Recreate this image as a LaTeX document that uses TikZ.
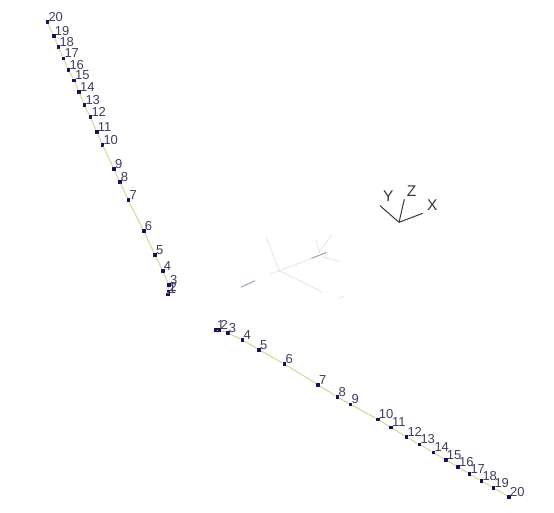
\documentclass[tikz,border=0pt]{standalone}
\usepackage{fontspec}
\setmainfont{Liberation Sans}
\definecolor{linecol}{RGB}{214,212,150}
\definecolor{dotcol}{RGB}{18,18,95}
\definecolor{numcol}{RGB}{62,62,92}
\definecolor{axiscol}{RGB}{55,55,55}
\tikzset{
  dotmark/.style={fill=dotcol,draw=none,rectangle,inner sep=0,minimum size=3.6pt},
  numlabel/.style={anchor=west,inner sep=0,text=numcol,font=\fontsize{13}{13}\selectfont},
  axlabel/.style={inner sep=0,text=axiscol,font=\fontsize{15.5}{15.5}\selectfont},
  chain/.style={draw=linecol,line width=1pt},
  axline/.style={draw=axiscol,line width=1pt},
  faint/.style={line width=1pt,densely dotted,draw=black!16},
  faintblue/.style={line width=1pt,draw=dotcol!40},
}
\begin{document}
\begin{tikzpicture}[x=1pt,y=-1pt]
  \useasboundingbox (0,0) rectangle (554,512);

  % left chain
  \foreach \n/\x/\y in {1/167.7/294.3,2/168.3/291.7,3/169/285,4/162.7/271,5/155/255,
    6/143.7/231,7/128.3/200,8/119.7/181.7,9/114/169,10/102.3/144.7,11/96.7/131.7,
    12/90.3/117,13/84.3/105,14/79/91.7,15/74/80.3,16/68.3/69.7,17/63.3/58.3,
    18/58.3/46.7,19/53.7/36,20/47.3/22}
  {
    \node[dotmark] (lp\n) at (\x,\y) {};
    \node[numlabel] (ll\n) at (\x+1,\y-5) {\n};
  }
  \foreach \a/\b in {1/2,2/3,3/4,4/5,5/6,6/7,7/8,8/9,9/10,10/11,11/12,12/13,13/14,
    14/15,15/16,16/17,17/18,18/19,19/20}
    \draw[chain] (lp\a) -- (lp\b);

  % lower chain
  \foreach \n/\x/\y in {1/216/330,2/219.3/330,3/227.7/332.7,4/242.3/340,5/259/349.7,
    6/284.3/364,7/318/384.7,8/337.3/397,9/350.3/404.3,10/377.7/419.3,11/391/427.3,
    12/406.3/437,13/419.3/444.3,14/433.3/452.3,15/445.7/460,16/458/467,17/469.3/473.7,
    18/481.3/481,19/493.3/487.7,20/509/496.7}
  {
    \node[dotmark] (rp\n) at (\x,\y) {};
    \node[numlabel] (rl\n) at (\x+1,\y-5) {\n};
  }
  \foreach \a/\b in {1/2,2/3,3/4,4/5,5/6,6/7,7/8,8/9,9/10,10/11,11/12,12/13,13/14,
    14/15,15/16,16/17,17/18,18/19,19/20}
    \draw[chain] (rp\a) -- (rp\b);

  % axes
  \coordinate (org) at (399,222.3);
  \node[axlabel] (xl) at (432.3,205) {X};
  \node[axlabel] (yl) at (388.3,196) {Y};
  \node[axlabel] (zl) at (411.7,191) {Z};
  \coordinate (xe) at (422.7,213.3);
  \coordinate (ye) at (380,205.7);
  \coordinate (ze) at (404.3,199.3);
  \draw[axline] (org) -- (xe);
  \draw[axline] (org) -- (ye);
  \draw[axline] (org) -- (ze);

  % faint figure in the middle
  \coordinate (mid) at (279.3,270.7);
  \coordinate (top) at (266.7,238.3);
  \coordinate (low) at (321.7,291.7);
  \coordinate (bk) at (270,274.3);
  \coordinate (wa) at (240.7,287.3);
  \coordinate (wb) at (255,280.7);
  \coordinate (ea) at (311.7,258.3);
  \coordinate (eb) at (326.7,252.3);
  \coordinate (fa) at (319.3,252.3);
  \coordinate (fb) at (316,240);
  \coordinate (fc) at (331.7,235);
  \coordinate (ga) at (323.3,256.7);
  \coordinate (gb) at (339.3,261.7);
  \coordinate (ha) at (339,298);
  \coordinate (hb) at (345,296);
  \draw[faint] (mid) -- (top);
  \draw[faint] (mid) -- (low);
  \draw[faint] (mid) -- (bk);
  \draw[faint] (mid) -- (ea);
  \draw[faint] (fa) -- (fb);
  \draw[faint] (fa) -- (fc);
  \draw[faint] (ga) -- (gb);
  \draw[faint] (ha) -- (hb);
  \draw[faintblue] (wa) -- (wb);
  \draw[faintblue] (ea) -- (eb);
\end{tikzpicture}
\end{document}
